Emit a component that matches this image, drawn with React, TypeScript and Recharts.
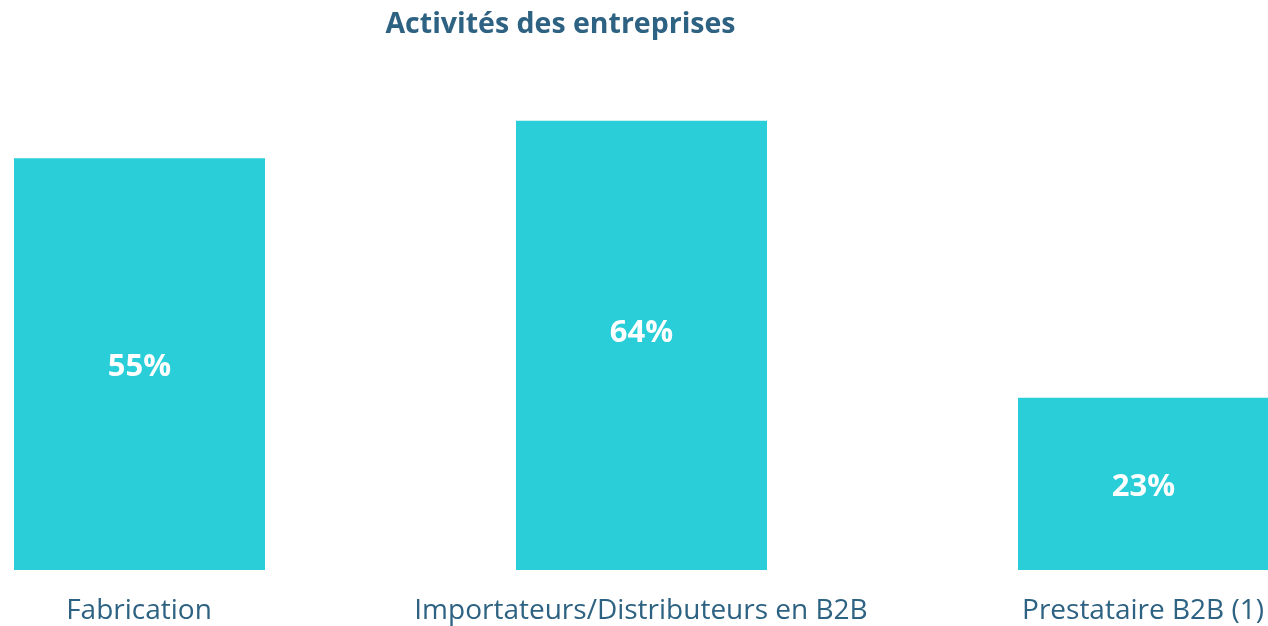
import React from 'react';
import { BarChart, Bar, XAxis, YAxis, LabelList } from 'recharts';

const categories = ['Fabrication', 'Importateurs/Distributeurs en B2B', 'Prestataire B2B (1)'];
// bar heights as drawn in the picture (the middle bar is drawn shorter than its label)
const barValues = [55, 60, 23];
const labelValues = [55, 64, 23];

const data = categories.map((name, i) => ({ name, value: barValues[i], label: labelValues[i] }));

const BAR_COLOR = '#29ced8';
const TEXT_COLOR = '#2e6282';
const FONT = '"Open Sans", sans-serif';

const ValueLabel = (props: any) => {
    const { x, y, width, height, index } = props;
    const d = data[index];
    const bottom = y + height;
    const pxPerUnit = height / d.value;
    const cy = bottom - (d.label * pxPerUnit) / 2;
    return (
        <text
            x={x + width / 2}
            y={cy}
            textAnchor="middle"
            dominantBaseline="central"
            fill="#ffffff"
            fontFamily={FONT}
            fontWeight={700}
            fontSize={31}
        >
            {d.label}%
        </text>
    );
};

const App = () => {
    return (
        <div style={{ position: 'fixed', left: 0, top: 0, width: 1268, height: 626, overflow: 'hidden' }}>
            <div
                style={{
                    position: 'absolute',
                    left: 0,
                    width: 1121,
                    top: 7,
                    textAlign: 'center',
                    fontFamily: FONT,
                    fontWeight: 700,
                    fontSize: 28.5,
                    lineHeight: '30px',
                    color: TEXT_COLOR,
                }}
            >
                Activités des entreprises
            </div>
            <div style={{ position: 'absolute', left: -112, top: 8 }}>
                <BarChart
                    width={1506}
                    height={618}
                    data={data}
                    margin={{ top: 38, right: 0, bottom: 0, left: 0 }}
                >
                    <XAxis
                        dataKey="name"
                        axisLine={false}
                        tickLine={false}
                        tickMargin={23}
                        height={56}
                        interval={0}
                        tick={{ fill: TEXT_COLOR, fontSize: 28, fontFamily: FONT }}
                    />
                    <YAxis hide domain={[0, 70]} />
                    <Bar dataKey="value" fill={BAR_COLOR} barSize={251} isAnimationActive={false}>
                        <LabelList dataKey="label" content={ValueLabel} />
                    </Bar>
                </BarChart>
            </div>
        </div>
    );
};

export default App;
